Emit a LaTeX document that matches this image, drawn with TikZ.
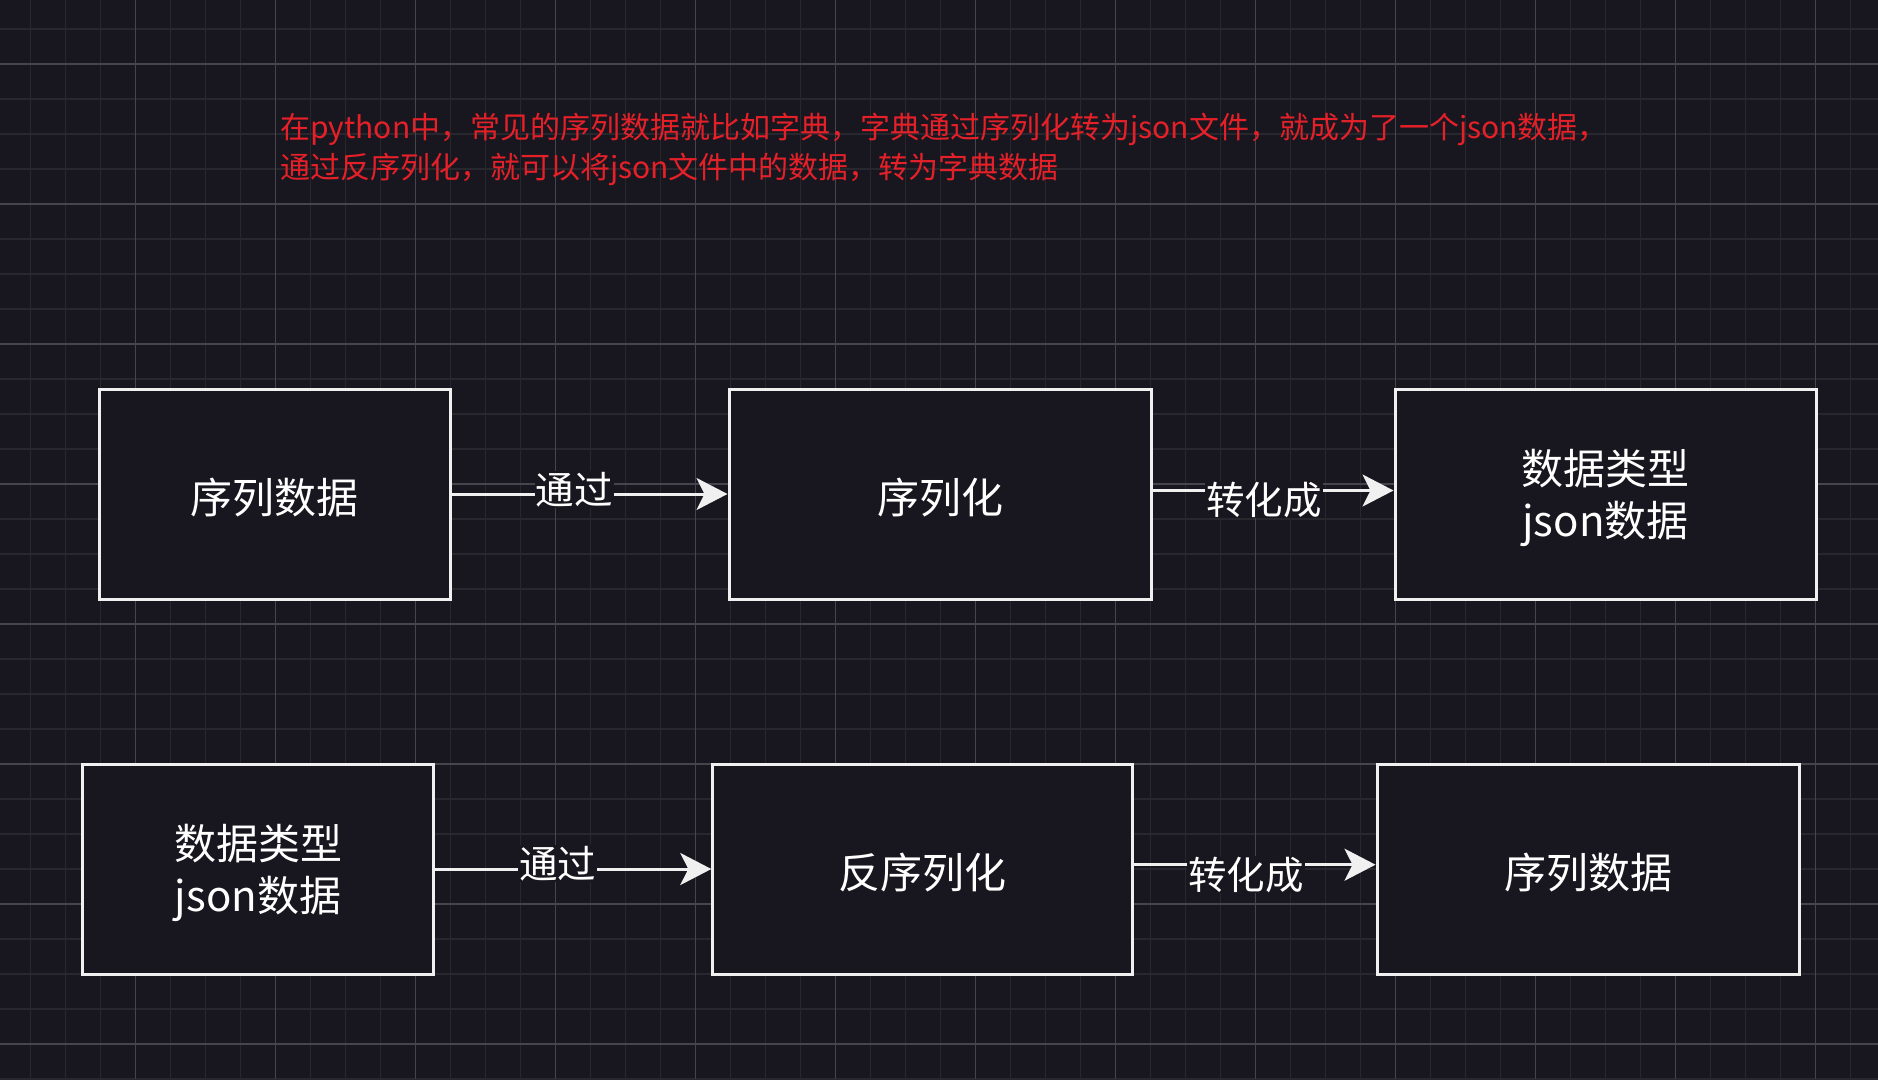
\documentclass[tikz,border=0pt]{standalone}
\usepackage{fontspec}
\setmainfont{Noto Sans CJK SC}
\usetikzlibrary{arrows.meta}
\definecolor{bg}{HTML}{18171F}
\definecolor{gridminor}{HTML}{28272E}
\definecolor{gridmajor}{HTML}{46454B}
\definecolor{boxline}{HTML}{F0F0F0}
\definecolor{note}{RGB}{230,32,40}
\tikzset{
  minorline/.style={draw=gridminor, line width=1.2pt},
  majorline/.style={draw=gridmajor, line width=1.2pt},
  box/.style={draw=boxline, line width=3pt, fill=bg, inner sep=0pt, minimum height=210pt},
  boxtext/.style={text=white, align=center, inner sep=0pt, font=\fontsize{42}{52}\selectfont},
  conn/.style={draw=boxline, line width=3pt,
    -{Stealth[length=31pt, width=32pt, inset=8pt, fill=boxline]}},
  lbl/.style={fill=bg, text=white, inner sep=1pt, font=\fontsize{38.5}{46}\selectfont},
}
\begin{document}
\begin{tikzpicture}[x=1pt,y=-1pt]
\useasboundingbox (0,0) rectangle (1878,1079);
\fill[bg] (0,0) rectangle (1878,1079);
% grid
\foreach \i in {0,...,53} {\draw[minorline] (30.4+35*\i,0) -- (30.4+35*\i,1079);}
\foreach \i in {0,...,30} {\draw[minorline] (0,29+35*\i) -- (1878,29+35*\i);}
\foreach \i in {0,...,12} {\draw[majorline] (135.4+140*\i,0) -- (135.4+140*\i,1079);}
\foreach \i in {0,...,7} {\draw[majorline] (0,64+140*\i) -- (1878,64+140*\i);}
% note
\node[anchor=west, align=left, text=note, inner sep=0pt,
  font=\fontsize{30}{40}\selectfont] (note) at (280,149.3)
  {在python中，常见的序列数据就比如字典，字典通过序列化转为json文件，就成为了一个json数据，\\通过反序列化，就可以将json文件中的数据，转为字典数据};
% row 1
\node[box, minimum width=351pt] (a) at (274.9,494) {};
\node[box, minimum width=422pt] (b) at (940,494) {};
\node[box, minimum width=421pt] (c) at (1605.5,494) {};
% row 2
\node[box, minimum width=351pt] (d) at (258.1,869) {};
\node[box, minimum width=420pt] (e) at (922.8,869) {};
\node[box, minimum width=422pt] (f) at (1588,869) {};
% box texts
\node[boxtext] (at) at ([yshift=-4pt]a.center) {序列数据};
\node[boxtext] (bt) at ([yshift=-4pt]b.center) {序列化};
\node[boxtext] (ct) at ([yshift=-4pt]c.center) {数据类型\\json数据};
\node[boxtext] (dt) at ([yshift=-4pt]d.center) {数据类型\\json数据};
\node[boxtext] (et) at ([yshift=-4pt]e.center) {反序列化};
\node[boxtext] (ft) at ([yshift=-4pt]f.center) {序列数据};
% connectors
\draw[conn] (a.east) -- (b.west);
\draw[conn] ([yshift=3.5pt]b.east) -- ([yshift=3.5pt]c.west);
\draw[conn] (d.east) -- (e.west);
\draw[conn] ([yshift=4.3pt]e.east) -- ([yshift=4.3pt]f.west);
% labels
\node[lbl] (l1) at (574,489.5) {通过};
\node[lbl] (l2) at (1264,499.5) {转化成};
\node[lbl] (l3) at (557.6,863.5) {通过};
\node[lbl] (l4) at (1246,874.5) {转化成};
\end{tikzpicture}
\end{document}
